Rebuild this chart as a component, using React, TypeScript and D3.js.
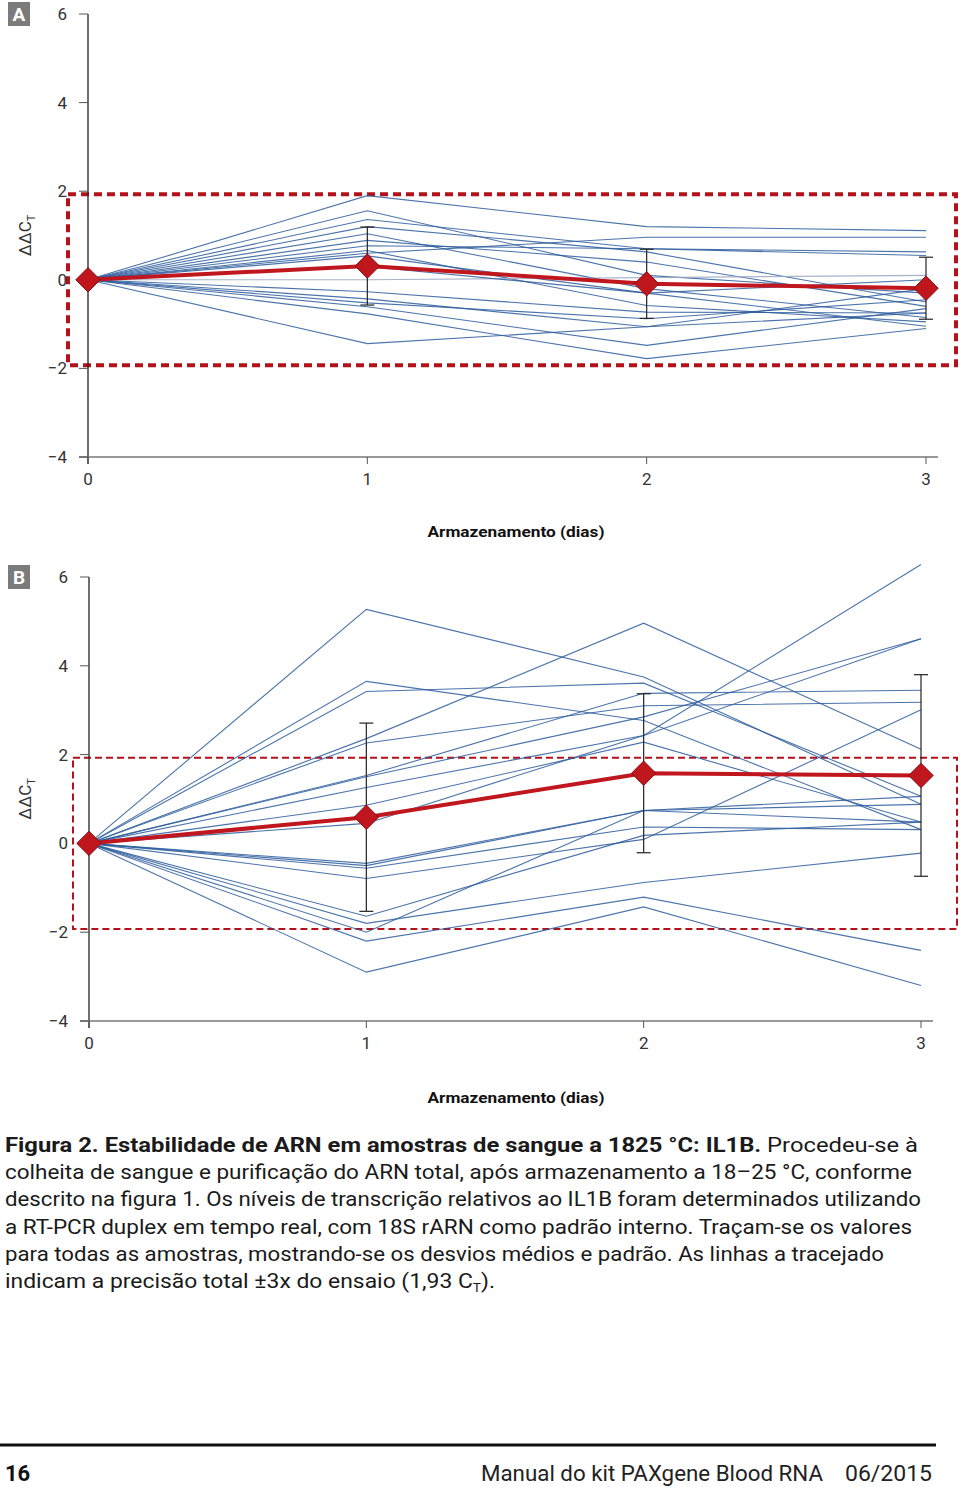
import React from "react";
import * as d3 from "d3";

const days = [0, 1, 2, 3];
const yTicks = [-4, -2, 0, 2, 4, 6];

// Panel A: individual samples (ΔΔCT at days 1,2,3; day 0 = 0)
const samplesA: number[][] = [
  [0, 1.9, 1.2, 1.11],
  [0, 1.56, 0.1, -0.3],
  [0, 1.36, 0.7, 0.55],
  [0, 1.2, 0.63, -0.5],
  [0, 1.04, -0.2, -0.85],
  [0, 0.89, 0.4, -0.6],
  [0, 0.77, 0.7, 0.63],
  [0, 0.66, -0.58, -0.95],
  [0, 0.54, -0.3, -1.05],
  [0, 0.0, 0.05, 0.1],
  [0, -0.27, -0.73, -0.75],
  [0, -0.43, -1.06, -0.2],
  [0, -0.52, -0.88, -0.45],
  [0, -0.61, -1.48, -0.65],
  [0, -0.77, -1.78, -1.1],
  [0, -1.44, -1.06, -0.75],
  [0, 0.6, 0.96, 0.96],
  [0, 0.3, -0.3, 0.0],
];
const meanA = [0, 0.31, -0.09, -0.19];
const sdA = [0, 0.88, 0.78, 0.7];

// Panel B
const samplesB: number[][] = [
  [0, 5.27, 3.75, 0.88],
  [0, 2.36, 4.96, 2.12],
  [0, 3.65, 2.77, 0.31],
  [0, 3.42, 3.61, 1.06],
  [0, 1.53, 3.38, 3.45],
  [0, 2.26, 3.1, 3.18],
  [0, 1.5, 2.85, 4.61],
  [0, 1.26, 2.43, 4.61],
  [0, 0.86, 2.28, 0.48],
  [0, -0.45, 0.74, 0.88],
  [0, -0.5, 0.74, 0.48],
  [0, -0.56, 0.37, 0.31],
  [0, 0.45, 2.43, 6.28],
  [0, -0.79, 0.09, 3.01],
  [0, -1.64, 0.18, 0.48],
  [0, -1.8, -0.88, -0.22],
  [0, -2.0, 0.74, 1.06],
  [0, -2.2, -1.21, -2.41],
  [0, -2.9, -1.43, -3.2],
];
const meanB = [0, 0.59, 1.58, 1.53];
const sdB = [0, 2.12, 1.79, 2.27];

const precision = 1.93;

const captionLines = [
  { bold: "Figura 2. Estabilidade de ARN em amostras de sangue a 1825 °C: IL1B.", rest: " Procedeu-se à" },
  { bold: "", rest: "colheita de sangue e purificação do ARN total, após armazenamento a 18–25 °C, conforme" },
  { bold: "", rest: "descrito na figura 1. Os níveis de transcrição relativos ao IL1B foram determinados utilizando" },
  { bold: "", rest: "a RT-PCR duplex em tempo real, com 18S rARN como padrão interno. Traçam-se os valores" },
  { bold: "", rest: "para todas as amostras, mostrando-se os desvios médios e padrão. As linhas a tracejado" },
];
const captionWidths = [913, 907, 916, 907, 879];

const FONT = "Roboto, 'Open Sans', sans-serif";
const BLUE = "#2c5c9c";
const RED = "#c0161e";

type PanelProps = {
  label: string;
  samples: number[][];
  mean: number[];
  sd: number[];
  x0: number; x1: number; yTop: number; yBot: number;
  boxLeft: number; boxRight: number;
  dashW: number; dash: string;
  titleY: number;
};

function Panel(p: PanelProps) {
  const x = d3.scaleLinear().domain([0, 3]).range([p.x0, p.x1]);
  const y = d3.scaleLinear().domain([-4, 6]).range([p.yBot, p.yTop]);
  const line = d3.line<number>().x((_, i) => x(days[i])).y((d) => y(d));
  const yMid = (y(6) + y(-4)) / 2;
  return (
    <g>
      {/* label box */}
      <rect x={8} y={p.yTop - 12} width={22} height={24} fill="#7b7b7b" />
      <text x={19} y={p.yTop + 7} textAnchor="middle" fill="#fff" fontFamily={FONT} fontWeight="bold" fontSize={19}>{p.label}</text>
      {/* precision box */}
      <rect x={p.boxLeft} y={y(precision)} width={p.boxRight - p.boxLeft} height={y(-precision) - y(precision)}
        fill="none" stroke="#b3121b" strokeWidth={p.dashW} strokeDasharray={p.dash} />
      {/* axes */}
      <line x1={p.x0} x2={p.x0} y1={y(6)} y2={y(-4) + 7} stroke="#222" strokeWidth={1.3} />
      <line x1={p.x0 - 9} x2={p.x1 + 12} y1={y(-4)} y2={y(-4)} stroke="#777" strokeWidth={1.3} />
      {yTicks.map((t) => (
        <g key={t}>
          <line x1={p.x0 - 9} x2={p.x0} y1={y(t)} y2={y(t)} stroke="#555" strokeWidth={1} />
          <text x={p.x0 - 21} y={y(t) + 6} textAnchor="end" fontFamily={FONT} fontSize={17} fill="#333">
            {t < 0 ? "\u2212" + Math.abs(t) : String(t)}
          </text>
        </g>
      ))}
      {days.map((d) => (
        <g key={d}>
          <line x1={x(d)} x2={x(d)} y1={y(-4)} y2={y(-4) + 7} stroke="#555" strokeWidth={1} />
          <text x={x(d)} y={y(-4) + 28} textAnchor="middle" fontFamily={FONT} fontSize={17} fill="#333">{d}</text>
        </g>
      ))}
      <text x={516} y={p.titleY} textAnchor="middle" fontFamily={FONT} fontWeight="bold" fontSize={15} fill="#111"
        textLength={177} lengthAdjust="spacingAndGlyphs">Armazenamento (dias)</text>
      <text transform={`translate(31,${yMid}) rotate(-90)`} textAnchor="middle" fontFamily={FONT} fontSize={17} fill="#333">
        ΔΔC<tspan fontSize={11} dy={4}>T</tspan>
      </text>
      {/* sample lines */}
      {p.samples.map((s, i) => (
        <path key={i} d={line(s) || ""} fill="none" stroke={i === 9 && p.label === "A" ? "#9aa6c2" : BLUE} strokeWidth={1.1} strokeOpacity={0.85} />
      ))}
      {/* error bars */}
      {days.slice(1).map((d) => {
        const m = p.mean[d], s = p.sd[d];
        return (
          <g key={d} stroke="#222" strokeWidth={1.2}>
            <line x1={x(d)} x2={x(d)} y1={y(m + s)} y2={y(m - s)} />
            <line x1={x(d) - 7} x2={x(d) + 7} y1={y(m + s)} y2={y(m + s)} />
            <line x1={x(d) - 7} x2={x(d) + 7} y1={y(m - s)} y2={y(m - s)} />
          </g>
        );
      })}
      {/* mean */}
      <path d={line(p.mean) || ""} fill="none" stroke={RED} strokeWidth={4} />
      {p.mean.map((m, i) => (
        <path key={i} d={d3.symbol(d3.symbolDiamond2, 380)() || ""}
          transform={`translate(${x(days[i])},${y(m)})`} fill={RED} stroke="#8a0d12" strokeWidth={1} />
      ))}
    </g>
  );
}

export default function App() {
  return (
    <svg width={960} height={1487} style={{ position: "absolute", left: 0, top: 0, background: "#fff" }}>
      <rect width={960} height={1487} fill="#fff" />
      <Panel label="A" samples={samplesA} mean={meanA} sd={sdA} x0={88} x1={926} yTop={14} yBot={457}
        boxLeft={68} boxRight={956} dashW={4} dash="8,5" titleY={537} />
      <Panel label="B" samples={samplesB} mean={meanB} sd={sdB} x0={89} x1={921} yTop={577} yBot={1021}
        boxLeft={73} boxRight={957} dashW={2} dash="7,4" titleY={1103} />
      {captionLines.map((l, i) => (
        <text key={i} x={5} y={1152 + i * 27.2} fontFamily={FONT} fontSize={20} fill="#1a1a1a"
          textLength={captionWidths[i]} lengthAdjust="spacingAndGlyphs">
          {l.bold ? <tspan fontWeight="bold">{l.bold}</tspan> : null}
          <tspan>{l.rest}</tspan>
        </text>
      ))}
      <text x={5} y={1152 + 5 * 27.2} fontFamily={FONT} fontSize={20} fill="#1a1a1a" textLength={490} lengthAdjust="spacingAndGlyphs">
        indicam a precisão total ±3x do ensaio (1,93 C<tspan fontSize={12} dy={4}>T</tspan><tspan dy={-4}>).</tspan>
      </text>
      <line x1={0} x2={936} y1={1445} y2={1445} stroke="#111" strokeWidth={3} />
      <text x={5} y={1481} fontFamily={FONT} fontWeight="bold" fontSize={22} fill="#111">16</text>
      <text x={823} y={1481} textAnchor="end" fontFamily={FONT} fontSize={22} fill="#222" textLength={342} lengthAdjust="spacingAndGlyphs">
        Manual do kit PAXgene Blood RNA
      </text>
      <text x={932} y={1481} textAnchor="end" fontFamily={FONT} fontSize={22} fill="#222" textLength={87} lengthAdjust="spacingAndGlyphs">
        06/2015
      </text>
    </svg>
  );
}
